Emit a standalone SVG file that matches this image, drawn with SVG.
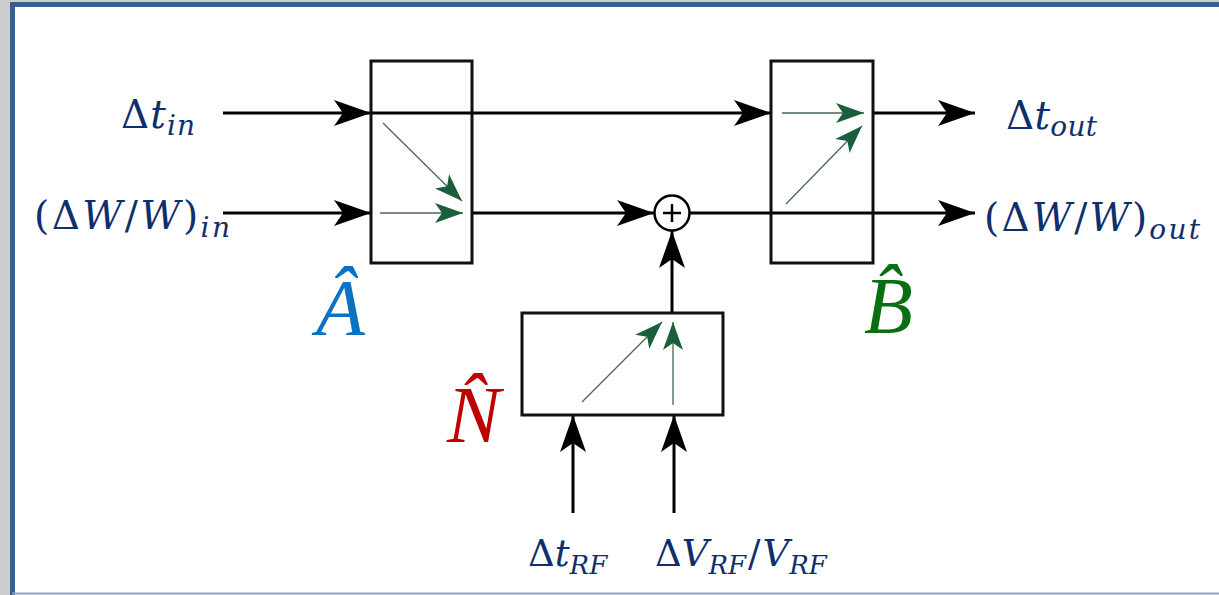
<svg xmlns="http://www.w3.org/2000/svg" width="1219" height="595" viewBox="0 0 1219 595">
<defs>
<marker id="ah" markerUnits="userSpaceOnUse" markerWidth="40" markerHeight="30" refX="37" refY="13" orient="auto" overflow="visible">
<path d="M37,13 L0,0 L9,13 L0,26 Z" fill="#000"/>
</marker>
<marker id="gh" markerUnits="userSpaceOnUse" markerWidth="30" markerHeight="22" refX="28" refY="10" orient="auto" overflow="visible">
<path d="M28,10 L0,0 L7,10 L0,20 Z" fill="#1b5e3c"/>
</marker>
</defs>
<style>
.box{fill:none;stroke:#111;stroke-width:3}
.wire{stroke:#000;stroke-width:3;fill:none}
.gw{stroke:#4a6656;stroke-width:1.3;fill:none}
.lbl{font-family:"DejaVu Serif","Liberation Serif",serif;fill:#0f2f6c;font-size:39px}
.it{font-style:italic}
.sub{font-style:italic;font-size:28px}
.sm{font-size:37px}
.sm .sub{font-size:26px}
.big{font-family:"Liberation Serif","DejaVu Serif",serif;font-style:italic;font-size:80px}
</style>
<rect x="0" y="0" width="1219" height="595" fill="#cdcdcd"/>
<rect x="12.5" y="4.5" width="1215" height="600" fill="#fff" stroke="#3a5f8e" stroke-width="5"/>
<line x1="12" y1="593.5" x2="1219" y2="593.5" stroke="#8fa3c2" stroke-width="2"/>

<g id="connectors">
<line class="wire" x1="223" y1="113" x2="371" y2="113" marker-end="url(#ah)"/>
<line class="wire" x1="371" y1="113" x2="771" y2="113" marker-end="url(#ah)"/>
<line class="wire" x1="873" y1="113" x2="975" y2="113" marker-end="url(#ah)"/>
<line class="wire" x1="223" y1="213" x2="371" y2="213" marker-end="url(#ah)"/>
<line class="wire" x1="472" y1="213" x2="654" y2="213" marker-end="url(#ah)"/>
<line class="wire" x1="690" y1="213" x2="975" y2="213" marker-end="url(#ah)"/>
<line class="wire" x1="672" y1="313" x2="672" y2="231" marker-end="url(#ah)"/>
<line class="wire" x1="573" y1="513" x2="573" y2="415" marker-end="url(#ah)"/>
<line class="wire" x1="674" y1="513" x2="674" y2="415" marker-end="url(#ah)"/>
</g>

<g id="A">
<rect class="box" x="371" y="61" width="101" height="202"/>
<line class="gw" x1="383" y1="123" x2="462" y2="201" marker-end="url(#gh)"/>
<line class="gw" x1="380" y1="213" x2="463" y2="213" marker-end="url(#gh)"/>
<text class="big" x="316" y="335" fill="#0a72c4">Â</text>
</g>

<g id="B">
<rect class="box" x="771" y="61" width="102" height="202"/>
<line class="gw" x1="782" y1="113" x2="864" y2="113" marker-end="url(#gh)"/>
<line class="gw" x1="786" y1="204" x2="862" y2="126" marker-end="url(#gh)"/>
<text class="big" x="864" y="333" fill="#0a6f12">B̂</text>
</g>

<g id="N">
<rect class="box" x="522" y="313" width="201" height="102"/>
<line class="gw" x1="582" y1="402" x2="662" y2="322" marker-end="url(#gh)"/>
<line class="gw" x1="673" y1="405" x2="673" y2="322" marker-end="url(#gh)"/>
<text class="big" x="447" y="442" fill="#c00000">N̂</text>
</g>

<g id="sum">
<circle cx="672" cy="213" r="17.5" fill="#fff" stroke="#000" stroke-width="2.5"/>
<line x1="663" y1="213" x2="681" y2="213" stroke="#000" stroke-width="2.5"/>
<line x1="672" y1="204" x2="672" y2="222" stroke="#000" stroke-width="2.5"/>
</g>

<g id="labels">
<text class="lbl" x="121" y="128" textLength="74" lengthAdjust="spacing">Δ<tspan class="it">t</tspan><tspan class="sub" dy="7">in</tspan></text>
<text class="lbl" x="34" y="229" textLength="196" lengthAdjust="spacing">(Δ<tspan class="it">W</tspan>/<tspan class="it">W</tspan>)<tspan class="sub" dy="8">in</tspan></text>
<text class="lbl" x="1006" y="129" textLength="91" lengthAdjust="spacing">Δ<tspan class="it">t</tspan><tspan class="sub" dy="7">out</tspan></text>
<text class="lbl" x="984" y="231" textLength="216" lengthAdjust="spacing">(Δ<tspan class="it">W</tspan>/<tspan class="it">W</tspan>)<tspan class="sub" dy="8">out</tspan></text>
<text class="lbl sm" x="528" y="566">Δ<tspan class="it">t</tspan><tspan class="sub" dy="8">RF</tspan></text>
<text class="lbl sm" x="655" y="566">Δ<tspan class="it">V</tspan><tspan class="sub" dy="8">RF</tspan><tspan dy="-8" dx="2">/</tspan><tspan class="it" dx="2">V</tspan><tspan class="sub" dy="8">RF</tspan></text>
</g>
</svg>
